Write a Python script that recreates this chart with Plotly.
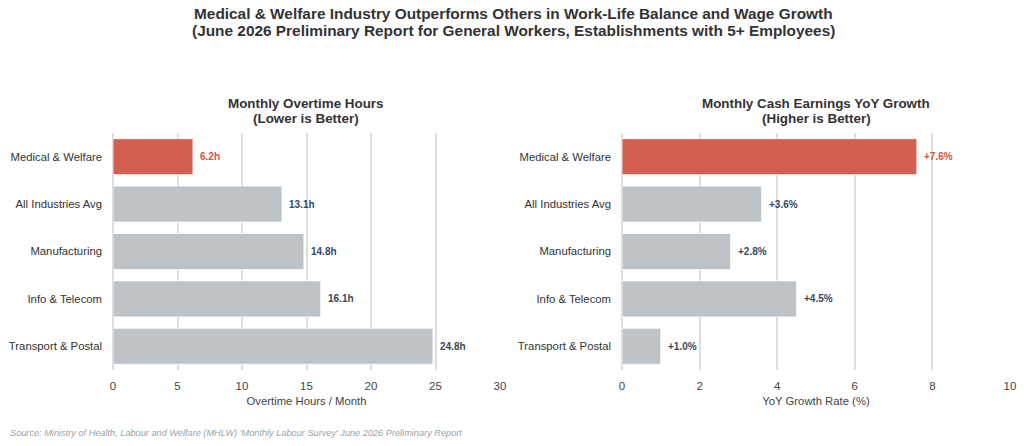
import plotly.graph_objects as go

categories = ["Medical & Welfare", "All Industries Avg", "Manufacturing", "Info & Telecom", "Transport & Postal"]
overtime_hours = [6.2, 13.1, 14.8, 16.1, 24.8]
wage_growth = [7.6, 3.6, 2.8, 4.5, 1.0]
overtime_labels = ["6.2h", "13.1h", "14.8h", "16.1h", "24.8h"]
wage_labels = ["+7.6%", "+3.6%", "+2.8%", "+4.5%", "+1.0%"]

RED = "#d35f51"
GRAY = "#bdc3c7"
RED_TXT = "#d35443"
DARK_TXT = "#34495e"
FONT = "Liberation Sans, Arial, sans-serif"

W, H = 1024, 446


def px(x):
    return x / W


def py(y):
    return (H - y) / H


colors = [RED if c == "Medical & Welfare" else GRAY for c in categories]
txt_colors = [RED_TXT if c == "Medical & Welfare" else DARK_TXT for c in categories]

fig = go.Figure()
fig.add_trace(go.Bar(x=overtime_hours, y=categories, orientation="h",
                     marker=dict(color=colors, line=dict(color="rgba(255,255,255,0.8)", width=1)),
                     xaxis="x", yaxis="y", showlegend=False, hoverinfo="skip"))
fig.add_trace(go.Bar(x=wage_growth, y=categories, orientation="h",
                     marker=dict(color=colors, line=dict(color="rgba(255,255,255,0.8)", width=1)),
                     xaxis="x2", yaxis="y2", showlegend=False, hoverinfo="skip"))

annotations = []
for c, v, t, col in zip(categories, overtime_hours, overtime_labels, txt_colors):
    annotations.append(dict(x=v, y=c, xref="x", yref="y", text="<b>%s</b>" % t, showarrow=False,
                            xanchor="left", xshift=5, font=dict(size=10, color=col, family=FONT)))
for c, v, t, col in zip(categories, wage_growth, wage_labels, txt_colors):
    annotations.append(dict(x=v, y=c, xref="x2", yref="y2", text="<b>%s</b>" % t, showarrow=False,
                            xanchor="left", xshift=5, font=dict(size=10, color=col, family=FONT)))


def text_line(x, y, txt, size, color="#333333", anchor="center"):
    annotations.append(dict(x=x, y=y, xref="paper", yref="paper", text=txt, showarrow=False,
                            xanchor=anchor, yanchor="middle", font=dict(size=size, color=color, family=FONT)))


text_line(px(306), py(103), "<b>Monthly Overtime Hours</b>", 13.4)
text_line(px(306), py(118.5), "<b>(Lower is Better)</b>", 13.4)
text_line(px(816), py(103), "<b>Monthly Cash Earnings YoY Growth</b>", 13.4)
text_line(px(816), py(118.5), "<b>(Higher is Better)</b>", 13.4)
text_line(px(513), py(14), "<b>Medical & Welfare Industry Outperforms Others in Work-Life Balance and Wage Growth</b>", 15.4)
text_line(px(513), py(31), "<b>(June 2026 Preliminary Report for General Workers, Establishments with 5+ Employees)</b>", 15.4)
text_line(px(8), py(433), "<i>Source: Ministry of Health, Labour and Welfare (MHLW) 'Monthly Labour Survey' June 2026 Preliminary Report</i>",
          9.2, color="#95a5a6", anchor="left")

ydom = [py(370), py(133)]
axis_common = dict(showgrid=True, gridcolor="#dddddd", gridwidth=1.5, zeroline=True,
                   zerolinecolor="#dddddd", zerolinewidth=1.5, showline=False, ticks="",
                   automargin=False, ticklabelstandoff=7,
                   tickfont=dict(size=11.5, color="#444444", family=FONT))
yaxis_common = dict(autorange=False, range=[4.5, -0.5], showgrid=False, zeroline=False,
                    showline=False, ticks="", ticklabelstandoff=10, automargin=False,
                    tickfont=dict(size=11.3, color="#333333", family=FONT), domain=ydom)

fig.update_layout(
    template="none",
    width=W, height=H,
    margin=dict(l=0, r=0, t=0, b=0, autoexpand=False),
    paper_bgcolor="white", plot_bgcolor="white",
    bargap=0.24,
    hovermode=False,
    font=dict(family=FONT),
    xaxis=dict(domain=[px(113), px(500)], range=[0, 30], dtick=5,
               title=dict(text="Overtime Hours / Month", standoff=6, font=dict(size=11.3, color="#444444")),
               anchor="y", **axis_common),
    yaxis=dict(anchor="x", **yaxis_common),
    xaxis2=dict(domain=[px(622), px(1010)], range=[0, 10], dtick=2,
                title=dict(text="YoY Growth Rate (%)", standoff=6, font=dict(size=11.3, color="#444444")),
                anchor="y2", **axis_common),
    yaxis2=dict(anchor="x2", **yaxis_common),
    annotations=annotations,
)

fig.write_html("out.html", config={"displayModeBar": False},
               post_script="document.body.style.margin='0';document.body.style.overflow='hidden';")
